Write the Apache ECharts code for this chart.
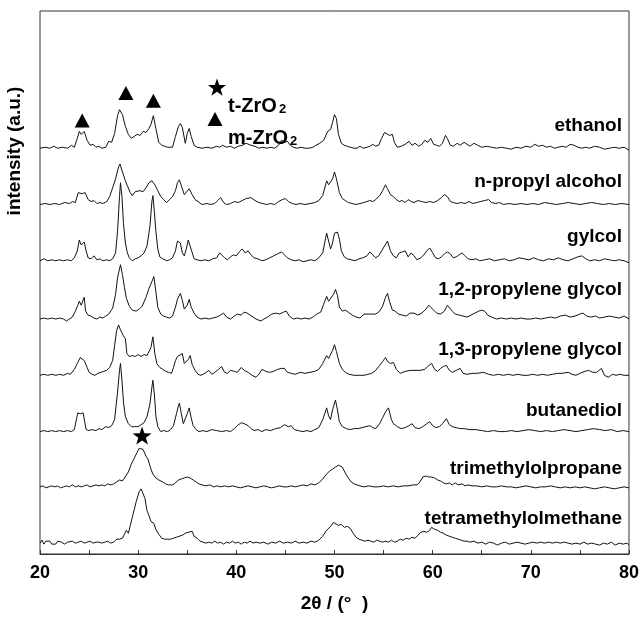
<!DOCTYPE html>
<html>
<head>
<meta charset="utf-8">
<script src="https://cdn.jsdelivr.net/npm/echarts@6/dist/echarts.min.js"></script>
<style>
  html, body { margin: 0; padding: 0; background: #fff; }
  #chart { width: 642px; height: 618px; }
</style>
</head>
<body>
<div id="chart"></div>
<script>
// 2theta (deg), intensity above each trace's own baseline (a.u.)
const ethanol = [[20.0,0],[20.5,1],[21.0,0],[21.4,2],[21.8,0],[22.3,1],[22.8,0],[23.2,3],[23.5,1],[23.8,10],[24.0,17],[24.2,14],[24.5,17],[24.8,8],[25.1,3],[25.4,4],[25.7,1],[26.0,2],[26.3,0],[26.7,1],[27.0,7],[27.3,6],[27.6,15],[27.9,33],[28.1,39],[28.4,34],[28.7,22],[29.0,14],[29.3,10],[29.6,12],[29.9,14],[30.2,13],[30.5,17],[30.8,16],[31.1,20],[31.3,24],[31.55,33],[31.8,20],[32.1,6],[32.4,3],[32.7,2],[33.0,1],[33.2,3],[33.5,1],[33.8,12],[34.1,22],[34.3,25],[34.5,21],[34.8,5],[35.0,15],[35.2,20],[35.4,12],[35.7,3],[36.0,1],[36.5,0],[37.0,1],[37.5,0],[38.0,2],[38.3,1],[38.6,3],[39.0,1],[39.4,2],[39.8,0],[40.2,2],[40.6,3],[41.0,5],[41.2,6],[41.5,3],[41.9,2],[42.3,0],[42.7,1],[43.1,0],[43.5,1],[43.9,0],[44.3,3],[44.6,8],[44.9,6],[45.2,7],[45.5,3],[45.8,1],[46.2,0],[46.6,1],[47.0,0],[47.4,0],[47.8,1],[48.1,3],[48.5,5],[48.9,8],[49.3,17],[49.6,19],[49.8,26],[50.0,34],[50.2,30],[50.4,14],[50.7,5],[51.0,3],[51.3,2],[51.6,1],[52.0,0],[52.3,0],[52.6,2],[52.9,0],[53.3,1],[53.6,2],[53.9,4],[54.2,2],[54.5,3],[54.8,10],[55.1,16],[55.3,17],[55.6,13],[55.9,14],[56.1,6],[56.4,1],[56.8,2],[57.2,4],[57.6,7],[57.9,3],[58.2,5],[58.6,2],[58.9,4],[59.2,8],[59.5,6],[59.8,10],[60.1,4],[60.4,3],[60.7,2],[61.0,5],[61.3,13],[61.5,10],[61.8,3],[62.1,2],[62.5,5],[62.8,3],[63.2,6],[63.5,4],[63.8,2],[64.2,5],[64.6,3],[65.0,1],[65.5,2],[66.0,1],[66.5,0],[67.0,1],[67.5,0],[68.0,-1],[68.5,1],[69.0,0],[69.5,2],[70.0,1],[70.4,4],[70.8,2],[71.2,3],[71.6,1],[72.0,2],[72.4,0],[72.8,1],[73.2,2],[73.6,1],[74.0,4],[74.4,3],[74.8,1],[75.2,0],[75.6,1],[76.0,0],[76.5,2],[77.0,1],[77.5,-1],[78.0,0],[78.5,1],[79.0,0],[79.5,1],[80.0,-2]];

const nPropylAlcohol = [[20.0,0],[20.5,1],[21.0,0],[21.5,1],[22.0,0],[22.5,2],[23.0,1],[23.3,3],[23.6,2],[23.9,12],[24.1,14],[24.3,11],[24.6,12],[24.9,5],[25.2,3],[25.5,4],[25.8,1],[26.1,2],[26.4,1],[26.8,3],[27.1,8],[27.4,17],[27.7,26],[28.0,38],[28.15,41],[28.4,33],[28.7,24],[28.9,19],[29.2,12],[29.4,9],[29.7,13],[29.9,11],[30.2,14],[30.5,13],[30.8,17],[31.1,22],[31.4,24],[31.7,20],[32.0,14],[32.3,8],[32.6,5],[32.9,2],[33.2,5],[33.5,8],[33.8,14],[34.0,22],[34.2,25],[34.4,19],[34.7,10],[34.9,12],[35.2,16],[35.5,10],[35.8,5],[36.1,3],[36.5,0],[37.0,1],[37.4,0],[37.8,1],[38.1,4],[38.4,7],[38.7,2],[39.0,0],[39.4,1],[39.8,3],[40.2,2],[40.6,4],[41.0,6],[41.5,7],[41.9,4],[42.3,2],[42.7,1],[43.1,0],[43.5,1],[43.9,0],[44.3,3],[44.7,5],[45.0,6],[45.3,3],[45.7,1],[46.1,0],[46.5,1],[47.0,0],[47.5,1],[48.0,2],[48.4,4],[48.8,9],[49.2,24],[49.4,20],[49.6,18],[49.8,26],[50.0,33],[50.2,26],[50.5,12],[50.8,6],[51.1,4],[51.4,2],[51.8,1],[52.2,0],[52.6,1],[53.0,2],[53.3,3],[53.6,4],[53.9,3],[54.2,5],[54.6,9],[54.9,14],[55.2,20],[55.4,16],[55.7,10],[56.0,8],[56.3,5],[56.6,3],[56.9,4],[57.2,2],[57.5,5],[57.8,3],[58.1,2],[58.5,4],[58.9,3],[59.3,2],[59.7,3],[60.1,2],[60.5,4],[60.9,7],[61.2,10],[61.5,8],[61.8,3],[62.1,2],[62.5,1],[62.9,2],[63.3,1],[63.7,3],[64.1,1],[64.5,2],[64.9,3],[65.3,4],[65.7,5],[66.0,2],[66.4,1],[66.8,2],[67.2,0],[67.8,1],[68.4,0],[69.0,1],[69.6,0],[70.2,1],[70.8,0],[71.4,2],[72.0,1],[72.6,0],[73.2,1],[73.8,2],[74.4,1],[75.0,0],[75.6,1],[76.2,2],[76.8,1],[77.4,0],[78.0,1],[78.6,0],[79.2,1],[80.0,0]];

const gylcol = [[20.0,0],[20.4,2],[20.8,0],[21.2,1],[21.6,0],[22.0,1],[22.4,0],[22.8,1],[23.2,0],[23.5,3],[23.8,10],[24.0,21],[24.2,16],[24.35,14],[24.5,19],[24.7,10],[24.9,3],[25.2,2],[25.5,5],[25.8,1],[26.1,2],[26.4,0],[26.8,1],[27.1,0],[27.4,2],[27.7,8],[27.9,30],[28.1,65],[28.2,79],[28.35,65],[28.5,38],[28.7,18],[28.9,8],[29.1,3],[29.4,0],[29.7,2],[30.0,3],[30.3,5],[30.6,8],[30.9,15],[31.2,35],[31.4,60],[31.5,66],[31.65,50],[31.8,30],[32.0,12],[32.2,4],[32.5,2],[32.9,0],[33.2,1],[33.5,3],[33.8,10],[34.0,20],[34.15,21],[34.3,18],[34.5,8],[34.7,5],[34.9,12],[35.1,21],[35.25,22],[35.45,10],[35.7,2],[36.0,1],[36.4,0],[36.8,1],[37.2,0],[37.6,2],[38.0,3],[38.3,8],[38.5,10],[38.8,3],[39.1,1],[39.4,4],[39.7,6],[40.0,5],[40.3,9],[40.6,12],[40.9,8],[41.2,10],[41.5,6],[41.8,3],[42.2,2],[42.6,0],[43.0,1],[43.4,3],[43.8,5],[44.2,7],[44.6,9],[44.9,6],[45.2,3],[45.6,1],[46.0,0],[46.4,1],[46.8,-1],[47.2,0],[47.6,1],[48.0,0],[48.4,3],[48.8,8],[49.0,18],[49.2,28],[49.4,20],[49.6,12],[49.8,18],[50.0,28],[50.3,29],[50.5,22],[50.7,10],[51.0,4],[51.3,2],[51.7,1],[52.1,0],[52.5,2],[52.9,3],[53.3,5],[53.6,9],[53.9,6],[54.2,3],[54.5,5],[54.8,10],[55.1,15],[55.4,20],[55.7,10],[56.0,5],[56.3,3],[56.6,8],[56.9,9],[57.2,10],[57.5,4],[57.8,8],[58.1,5],[58.4,1],[58.8,3],[59.1,6],[59.4,10],[59.7,13],[60.0,8],[60.3,3],[60.6,2],[60.9,4],[61.2,7],[61.5,9],[61.8,7],[62.1,3],[62.4,4],[62.7,6],[63.0,8],[63.3,5],[63.6,2],[64.0,1],[64.4,2],[64.8,0],[65.3,1],[65.8,2],[66.3,0],[66.8,1],[67.3,2],[67.8,0],[68.3,1],[68.8,3],[69.3,2],[69.8,1],[70.3,3],[70.8,1],[71.3,0],[71.8,2],[72.3,1],[72.8,3],[73.3,1],[73.8,0],[74.3,2],[74.8,4],[75.2,5],[75.6,2],[76.0,0],[76.5,1],[77.0,0],[77.5,2],[78.0,1],[78.5,0],[79.0,1],[79.5,0],[80.0,-2]];

const propyleneGlycol12 = [[20.0,0],[20.4,1],[20.8,0],[21.2,1],[21.6,0],[22.0,1],[22.4,0],[22.7,-2],[23.0,0],[23.3,2],[23.6,8],[23.9,15],[24.0,18],[24.2,14],[24.5,22],[24.65,8],[24.9,4],[25.2,3],[25.5,1],[25.8,0],[26.1,2],[26.4,1],[26.7,3],[27.0,5],[27.4,11],[27.7,25],[27.9,42],[28.2,55],[28.4,45],[28.6,32],[28.8,21],[29.1,13],[29.4,9],[29.8,8],[30.1,10],[30.4,13],[30.8,22],[31.1,31],[31.4,38],[31.6,43],[31.8,28],[32.0,12],[32.3,5],[32.6,3],[32.9,2],[33.2,1],[33.5,3],[33.8,12],[34.0,20],[34.3,26],[34.5,19],[34.7,10],[35.0,14],[35.2,20],[35.4,12],[35.7,6],[36.0,2],[36.4,0],[36.8,1],[37.2,0],[37.6,1],[38.0,2],[38.4,4],[38.7,6],[39.0,2],[39.4,0],[39.8,3],[40.1,5],[40.5,4],[40.8,7],[41.1,6],[41.4,4],[41.7,2],[42.0,0],[42.5,-2],[42.8,0],[43.2,2],[43.6,5],[44.0,6],[44.4,5],[44.8,7],[45.1,8],[45.4,3],[45.8,0],[46.2,1],[46.6,0],[47.0,1],[47.4,0],[47.8,2],[48.2,5],[48.6,7],[48.9,15],[49.2,23],[49.4,18],[49.6,16],[49.9,25],[50.1,30],[50.3,24],[50.5,12],[50.8,8],[51.1,9],[51.4,7],[51.8,4],[52.2,2],[52.6,1],[53.0,5],[53.4,5],[53.8,5],[54.2,5],[54.6,8],[54.9,13],[55.2,22],[55.4,26],[55.6,18],[55.9,9],[56.2,8],[56.5,5],[56.9,4],[57.3,3],[57.7,6],[58.1,6],[58.5,4],[58.9,6],[59.3,10],[59.6,14],[59.8,15],[60.1,9],[60.4,6],[60.8,5],[61.2,8],[61.5,14],[61.7,15],[62.0,8],[62.3,5],[62.7,4],[63.1,3],[63.5,2],[63.9,4],[64.3,6],[64.7,8],[65.0,9],[65.3,8],[65.6,4],[66.0,2],[66.5,0],[67.0,1],[67.5,0],[68.0,1],[68.5,0],[69.0,1],[69.5,0],[70.0,0],[70.5,1],[71.0,0],[71.5,1],[72.0,2],[72.5,1],[73.0,3],[73.5,4],[74.0,2],[74.5,3],[75.0,5],[75.3,6],[75.7,3],[76.1,2],[76.6,3],[77.0,1],[77.5,2],[78.0,3],[78.5,2],[79.0,1],[79.5,3],[80.0,0]];

const propyleneGlycol13 = [[20.0,0],[20.4,1],[20.8,0],[21.2,1],[21.6,0],[22.0,1],[22.4,0],[22.8,2],[23.1,1],[23.5,6],[23.8,12],[24.1,18],[24.3,19],[24.5,15],[24.8,8],[25.0,3],[25.3,1],[25.6,0],[25.9,2],[26.2,3],[26.5,4],[26.8,5],[27.1,8],[27.4,15],[27.6,30],[27.8,45],[28.0,51],[28.2,46],[28.5,40],[28.7,37],[28.85,22],[29.1,19],[29.4,20],[29.7,19],[30.0,21],[30.3,19],[30.6,21],[30.9,20],[31.1,22],[31.3,28],[31.5,39],[31.7,22],[31.9,12],[32.2,8],[32.5,6],[32.8,4],[33.1,3],[33.4,2],[33.6,8],[33.8,15],[34.0,19],[34.2,17],[34.5,22],[34.7,12],[34.9,10],[35.1,16],[35.3,20],[35.5,11],[35.8,5],[36.1,1],[36.4,0],[36.8,2],[37.2,5],[37.5,1],[37.8,3],[38.2,6],[38.5,9],[38.8,3],[39.1,2],[39.4,5],[39.8,4],[40.1,3],[40.5,8],[40.8,5],[41.2,3],[41.6,0],[42.0,-2],[42.3,1],[42.6,6],[43.0,4],[43.4,3],[43.8,4],[44.2,6],[44.6,7],[44.9,7],[45.2,3],[45.6,2],[46.0,1],[46.5,3],[47.0,2],[47.5,3],[48.0,4],[48.4,6],[48.8,12],[49.2,20],[49.4,17],[49.6,18],[49.8,25],[50.0,31],[50.2,24],[50.5,12],[50.8,6],[51.1,3],[51.5,1],[52.0,0],[52.5,0],[53.0,0],[53.4,1],[53.8,2],[54.2,5],[54.6,10],[54.9,14],[55.2,18],[55.4,14],[55.7,12],[56.0,13],[56.3,6],[56.7,2],[57.2,4],[57.7,5],[58.2,5],[58.7,5],[59.2,6],[59.5,9],[59.9,12],[60.2,6],[60.5,4],[60.8,7],[61.1,9],[61.4,10],[61.7,5],[62.0,3],[62.4,5],[62.8,7],[63.1,2],[63.5,1],[64.0,2],[64.5,2],[65.2,3],[65.7,1],[66.2,0],[66.7,1],[67.2,0],[67.7,1],[68.2,0],[68.7,1],[69.2,0],[69.7,0],[70.2,1],[70.7,0],[71.2,1],[71.7,0],[72.2,1],[72.7,2],[73.2,2],[73.8,3],[74.2,1],[74.6,0],[75.0,2],[75.5,4],[75.9,5],[76.3,3],[76.7,3],[77.2,7],[77.5,0],[77.9,-2],[78.3,1],[78.7,0],[79.1,1],[79.5,0],[80.0,0]];

const butanediol = [[20.0,0],[20.4,1],[20.8,0],[21.2,1],[21.6,0],[22.0,1],[22.4,0],[22.8,1],[23.2,0],[23.5,2],[23.7,12],[23.85,19],[24.1,18],[24.4,19],[24.55,10],[24.7,2],[25.0,1],[25.3,2],[25.7,1],[26.0,3],[26.3,2],[26.7,5],[27.0,4],[27.3,6],[27.6,12],[27.9,40],[28.1,62],[28.2,69],[28.35,52],[28.5,30],[28.7,15],[29.0,8],[29.3,5],[29.6,5],[30.0,5],[30.3,7],[30.6,9],[30.9,15],[31.2,28],[31.4,45],[31.5,52],[31.65,38],[31.8,16],[32.0,5],[32.3,0],[32.6,1],[33.0,0],[33.3,2],[33.6,6],[33.9,18],[34.1,26],[34.2,29],[34.4,18],[34.6,8],[34.8,10],[35.0,18],[35.2,24],[35.4,14],[35.6,6],[35.9,2],[36.2,0],[36.6,1],[37.0,0],[37.5,2],[38.0,1],[38.5,0],[39.0,1],[39.4,0],[39.8,3],[40.1,6],[40.5,9],[40.8,8],[41.2,6],[41.5,3],[41.8,1],[42.2,2],[42.6,0],[43.0,2],[43.5,1],[44.0,3],[44.5,4],[44.9,7],[45.3,5],[45.6,6],[45.9,2],[46.3,1],[46.8,0],[47.2,1],[47.6,0],[48.0,2],[48.4,4],[48.8,12],[49.2,24],[49.4,16],[49.6,12],[49.8,22],[50.1,32],[50.3,22],[50.5,10],[50.8,5],[51.2,3],[51.6,2],[52.0,3],[52.4,3],[52.8,4],[53.2,5],[53.6,6],[53.9,4],[54.2,3],[54.6,8],[54.9,14],[55.2,20],[55.5,24],[55.8,12],[56.0,8],[56.4,5],[56.8,3],[57.2,4],[57.6,6],[57.9,8],[58.2,4],[58.6,3],[59.0,5],[59.4,8],[59.7,10],[60.0,6],[60.3,4],[60.7,5],[61.0,8],[61.4,13],[61.7,7],[62.0,5],[62.4,4],[62.8,3],[63.2,3],[63.8,2],[64.4,2],[65.0,1],[65.6,0],[66.2,1],[66.8,0],[67.4,0],[68.0,1],[68.6,0],[69.2,1],[69.8,2],[70.4,1],[71.0,0],[71.6,1],[72.2,0],[72.8,1],[73.4,2],[74.0,1],[74.6,0],[75.2,1],[75.8,2],[76.4,3],[77.0,2],[77.6,1],[78.2,2],[78.8,0],[79.4,1],[80.0,0]];

const trimethylolpropane = [[20.0,0],[20.3,1],[20.6,-1],[20.9,0],[21.2,1],[21.5,0],[21.8,1],[22.1,-1],[22.4,0],[22.7,1],[23.0,0],[23.3,2],[23.6,0],[23.9,1],[24.2,0],[24.5,1],[24.8,2],[25.1,0],[25.4,1],[25.7,2],[26.0,1],[26.3,2],[26.6,1],[26.9,3],[27.2,2],[27.5,3],[27.8,5],[28.1,7],[28.4,6],[28.6,9],[28.8,10],[29.0,15],[29.3,23],[29.6,29],[29.9,35],[30.1,39],[30.3,41],[30.5,38],[30.8,31],[31.0,28],[31.3,18],[31.5,13],[31.8,9],[32.1,7],[32.5,5],[32.8,3],[33.1,2],[33.5,2],[33.8,4],[34.1,7],[34.4,8],[34.7,9],[35.0,10],[35.3,9],[35.6,7],[35.9,5],[36.2,3],[36.5,2],[36.9,1],[37.3,2],[37.7,0],[38.0,1],[38.4,0],[38.8,1],[39.2,0],[39.6,1],[40.0,0],[40.4,-1],[40.8,0],[41.2,1],[41.6,0],[42.0,-1],[42.4,0],[42.8,1],[43.2,0],[43.6,-1],[44.0,0],[44.4,1],[44.8,0],[45.2,0],[45.6,1],[46.0,0],[46.4,1],[46.8,2],[47.2,1],[47.6,3],[48.0,2],[48.4,4],[48.8,8],[49.2,13],[49.5,16],[49.8,18],[50.1,20],[50.4,22],[50.6,23],[50.8,20],[51.1,14],[51.4,9],[51.7,5],[52.0,3],[52.3,2],[52.6,1],[53.0,0],[53.5,1],[54.0,0],[54.5,0],[55.0,1],[55.5,0],[56.0,1],[56.5,0],[57.0,1],[57.5,1],[58.0,2],[58.4,2],[58.7,5],[59.0,10],[59.3,11],[59.6,10],[59.9,10],[60.2,9],[60.5,7],[60.8,6],[61.1,4],[61.4,3],[61.7,4],[62.0,2],[62.3,4],[62.6,2],[63.0,3],[63.3,1],[63.6,2],[64.0,1],[64.5,1],[65.0,0],[65.5,1],[66.0,0],[66.5,0],[67.0,1],[67.5,0],[68.0,0],[68.5,-1],[69.0,0],[69.5,1],[70.0,0],[70.5,-1],[71.0,0],[71.5,0],[72.0,1],[72.5,0],[73.0,-1],[73.5,0],[74.0,-1],[74.5,0],[75.0,-1],[75.5,0],[76.0,-1],[76.5,-2],[77.0,-1],[77.5,0],[78.0,-1],[78.5,-2],[79.0,-1],[79.5,0],[80.0,-1]];

const tetramethylolmethane = [[20.0,0],[20.2,3],[20.4,-1],[20.6,2],[20.8,0],[21.0,2],[21.2,-1],[21.4,1],[21.6,-1],[21.8,2],[22.0,0],[22.2,1],[22.5,-1],[22.8,1],[23.0,0],[23.3,2],[23.6,0],[23.9,1],[24.2,2],[24.5,0],[24.8,1],[25.1,2],[25.4,0],[25.7,1],[26.0,1],[26.3,0],[26.6,1],[26.9,2],[27.2,0],[27.5,1],[27.8,4],[28.1,4],[28.4,5],[28.6,9],[28.8,13],[29.0,10],[29.2,18],[29.5,30],[29.8,42],[30.1,52],[30.3,55],[30.5,54],[30.7,45],[30.9,33],[31.1,28],[31.3,22],[31.6,20],[31.8,14],[32.1,9],[32.4,5],[32.7,4],[33.0,4],[33.3,4],[33.6,5],[33.9,6],[34.2,7],[34.5,8],[34.8,10],[35.1,11],[35.3,10],[35.5,12],[35.7,7],[36.0,5],[36.3,2],[36.6,1],[36.9,0],[37.2,1],[37.5,0],[37.8,2],[38.1,0],[38.4,1],[38.7,-1],[39.0,1],[39.3,0],[39.6,2],[39.9,0],[40.2,1],[40.5,-1],[40.8,1],[41.1,0],[41.4,2],[41.7,0],[42.0,1],[42.4,0],[42.8,1],[43.2,-1],[43.6,1],[44.0,0],[44.4,2],[44.8,0],[45.2,1],[45.6,0],[46.0,2],[46.4,0],[46.8,1],[47.2,0],[47.6,2],[48.0,1],[48.4,3],[48.8,7],[49.2,13],[49.6,17],[49.9,21],[50.1,21],[50.4,18],[50.7,19],[51.0,16],[51.3,17],[51.6,15],[51.9,10],[52.2,6],[52.5,4],[52.8,3],[53.1,2],[53.4,3],[53.7,2],[54.0,1],[54.3,3],[54.6,2],[54.9,1],[55.2,2],[55.5,1],[55.8,3],[56.1,1],[56.4,2],[56.7,4],[57.0,3],[57.3,5],[57.6,4],[57.9,6],[58.2,5],[58.5,8],[58.8,11],[59.1,12],[59.4,11],[59.7,13],[59.9,16],[60.2,14],[60.5,13],[60.8,11],[61.1,10],[61.4,8],[61.7,7],[62.0,6],[62.3,5],[62.6,4],[62.9,3],[63.2,2],[63.5,2],[63.8,1],[64.2,2],[64.6,0],[65.0,1],[65.4,-1],[65.8,1],[66.2,0],[66.6,-2],[67.0,0],[67.4,1],[67.8,-1],[68.2,0],[68.6,1],[69.0,0],[69.4,-1],[69.8,0],[70.2,1],[70.6,0],[71.0,1],[71.4,0],[71.8,1],[72.2,0],[72.6,1],[73.0,0],[73.4,1],[73.8,0],[74.2,-1],[74.6,0],[75.0,-1],[75.4,1],[75.8,-1],[76.2,0],[76.6,-1],[77.0,-2],[77.4,0],[77.8,-1],[78.2,1],[78.6,-2],[79.0,0],[79.4,-1],[79.8,0],[80.0,-2]];

const sampleNames = ['ethanol', 'n-propyl alcohol', 'gylcol', '1,2-propylene glycol',
  '1,3-propylene glycol', 'butanediol', 'trimethylolpropane', 'tetramethylolmethane'];
const traces = [ethanol, nPropylAlcohol, gylcol, propyleneGlycol12,
  propyleneGlycol13, butanediol, trimethylolpropane, tetramethylolmethane];
const offsets = [411, 354, 297, 238, 181, 124, 68, 11];

// phase markers: [2theta, y]
const mMarks = [[24.3, 439], [28.75, 467], [31.55, 459]];
const tMarks = [[30.4, 120]];

const xTicks = [20, 30, 40, 50, 60, 70, 80];

const FONT = 'Liberation Sans, Arial, sans-serif';
const STAR = 'path://M50,0 L61.8,33.8 L97.6,34.5 L69,56.2 L79.4,90.5 L50,70 L20.6,90.5 L31,56.2 L2.4,34.5 L38.2,33.8 Z';

function starPoints(cx, cy, R, r) {
  const pts = [];
  for (let i = 0; i < 10; i++) {
    const a = -Math.PI / 2 + i * Math.PI / 5;
    const rad = i % 2 === 0 ? R : r;
    pts.push([cx + rad * Math.cos(a), cy + rad * Math.sin(a)]);
  }
  return pts;
}

const chart = echarts.init(document.getElementById('chart'));

const series = traces.map((t, i) => ({
  name: sampleNames[i],
  type: 'line',
  data: t.map(p => [p[0], p[1] + offsets[i]]),
  showSymbol: false,
  symbol: 'none',
  lineStyle: { color: '#111', width: 1 },
  animation: false,
  silent: true
}));

series.push({
  type: 'scatter',
  data: mMarks,
  symbol: 'triangle',
  symbolSize: [15, 14],
  itemStyle: { color: '#000', opacity: 1 },
  animation: false,
  silent: true
});
series.push({
  type: 'scatter',
  data: tMarks,
  symbol: STAR,
  symbolSize: [19, 18],
  itemStyle: { color: '#000', opacity: 1 },
  animation: false,
  silent: true
});

const labelY = [126.5, 182.5, 237.5, 290, 350, 411.5, 469.5, 519.5];
const graphic = sampleNames.map((n, i) => ({
  type: 'text',
  right: 20,
  top: labelY[i] - 10,
  style: { text: n, font: 'bold 19px ' + FONT, fill: '#000' }
}));

graphic.push(
  { type: 'polygon', shape: { points: starPoints(217, 88, 9.5, 3.8) }, style: { fill: '#000' } },
  { type: 'text', x: 228, y: 96, style: { text: 't-ZrO', font: 'bold 20px ' + FONT, fill: '#000', verticalAlign: 'alphabetic' } },
  { type: 'text', x: 279, y: 103, style: { text: '2', font: 'bold 13px ' + FONT, fill: '#000', verticalAlign: 'alphabetic' } },
  { type: 'polygon', shape: { points: [[215, 112], [222.5, 126], [207.5, 126]] }, style: { fill: '#000' } },
  { type: 'text', x: 228, y: 128, style: { text: 'm-ZrO', font: 'bold 20px ' + FONT, fill: '#000', verticalAlign: 'alphabetic' } },
  { type: 'text', x: 290, y: 135, style: { text: '2', font: 'bold 13px ' + FONT, fill: '#000', verticalAlign: 'alphabetic' } },
  {
    type: 'text', x: 15, y: 151, rotation: Math.PI / 2,
    style: { text: 'intensity (a.u.)', font: 'bold 19px ' + FONT, fill: '#000', align: 'center', verticalAlign: 'middle' }
  }
);

chart.setOption({
  animation: false,
  grid: {
    left: 40, right: 9, top: 11, bottom: 57,
    show: true, borderColor: '#333', borderWidth: 1
  },
  xAxis: {
    type: 'value',
    min: 20,
    max: 80,
    interval: 5,
    name: '2θ / (°  )',
    nameLocation: 'middle',
    nameGap: 40,
    nameTextStyle: { fontFamily: FONT, fontSize: 19, fontWeight: 'bold', color: '#000' },
    axisLine: { lineStyle: { color: '#333', width: 1 } },
    axisTick: { inside: true, length: 4, lineStyle: { color: '#333' } },
    axisLabel: {
      margin: 10,
      fontFamily: FONT,
      fontSize: 18,
      fontWeight: 'bold',
      color: '#000',
      formatter: v => (xTicks.indexOf(v) >= 0 ? String(v) : '')
    },
    splitLine: { show: false }
  },
  yAxis: {
    type: 'value',
    min: 0,
    max: 550,
    show: false
  },
  graphic: graphic,
  series: series
});
</script>
</body>
</html>
